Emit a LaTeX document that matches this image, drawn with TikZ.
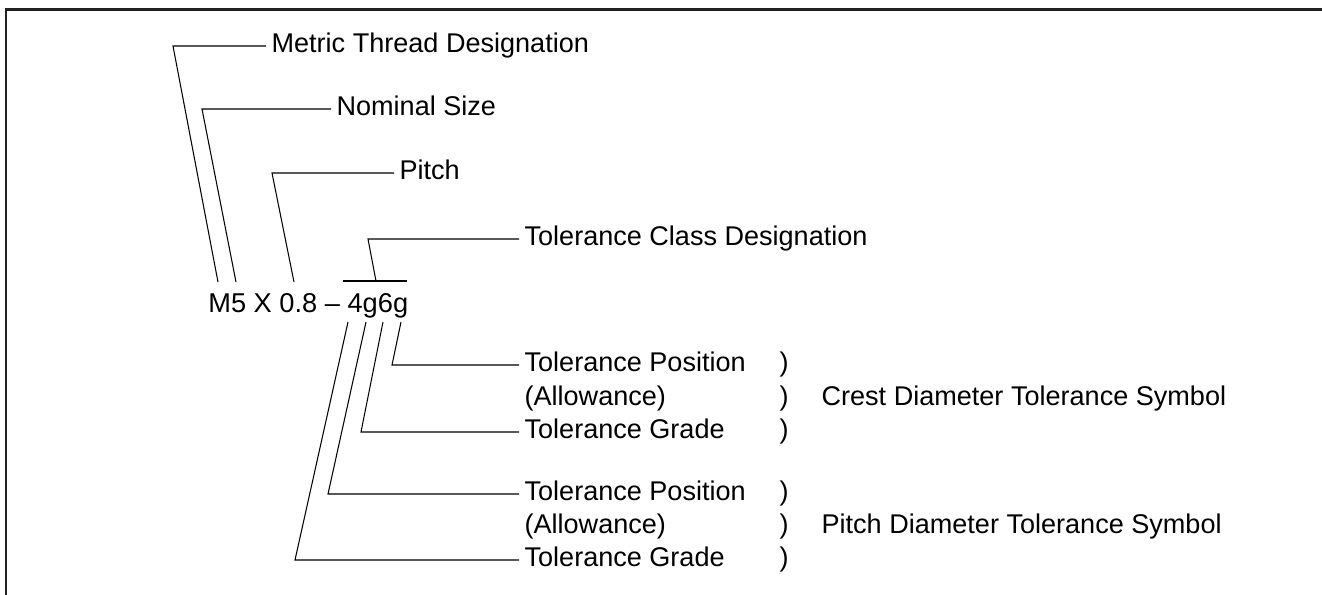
\documentclass[tikz,border=0pt]{standalone}
\usepackage{fontspec}
\setmainfont{Liberation Sans}
\usepackage{tikz}
\usetikzlibrary{positioning}
\usepackage{xcolor}
\definecolor{frameclr}{RGB}{34,34,34}

\begin{document}
\begin{tikzpicture}[x=0.02cm, y=-0.02cm,
    lbl/.style={anchor=west, inner xsep=3pt, inner ysep=0pt,
                text height=0.716em, text depth=0pt,
                font=\fontsize{15.4}{18}\selectfont},
    lead/.style={line width=0.6pt, line join=miter}]
    \useasboundingbox (0,0) rectangle (1322,595);
    % partial frame
    \draw[frameclr, line width=1.7pt] (1322,9.5) -- (6,9.5) -- (6,595);

    % the designation
    \node[anchor=base west, inner sep=0pt, font=\fontsize{15.5}{18}\selectfont]
          (desig) at (208,312) {M5 X 0.8 -- 4g6g};
    \coordinate (tM) at (218,282);
    \coordinate (tN) at (236,282);
    \coordinate (tP) at (294,282);
    \coordinate (tC) at (376,281);
    \coordinate (bG2) at (401,322);
    \coordinate (bS2) at (383,322);
    \coordinate (bG1) at (366,322);
    \coordinate (bS1) at (348,322);

    % upper labels
    \node[lbl] (metric) at (266,46) {Metric Thread Designation};
    \node[lbl] (nominal) at (331,109) {Nominal Size};
    \node[lbl] (pitch) at (394,173) {Pitch};
    \node[lbl] (tclass) at (519,239) {Tolerance Class Designation};

    % lower labels, crest diameter
    \node[lbl] (cpos) at (519,365) {Tolerance Position};
    \node[lbl] (call) at (519,399) {(Allowance)};
    \node[lbl] (cgrade) at (519,432) {Tolerance Grade};
    \node[lbl] (cp1) at (774,365) {)};
    \node[lbl] (cp2) at (774,399) {)};
    \node[lbl] (cp3) at (774,432) {)};
    \node[lbl] (crest) at (816,399) {Crest Diameter Tolerance Symbol};

    % lower labels, pitch diameter
    \node[lbl] (ppos) at (519,494) {Tolerance Position};
    \node[lbl] (pall) at (519,527) {(Allowance)};
    \node[lbl] (pgrade) at (519,560) {Tolerance Grade};
    \node[lbl] (pp1) at (774,494) {)};
    \node[lbl] (pp2) at (774,527) {)};
    \node[lbl] (pp3) at (774,560) {)};
    \node[lbl] (pdia) at (816,527) {Pitch Diameter Tolerance Symbol};

    % leaders
    \draw[lead] (tM) -- (173,46) -- (metric.west);
    \draw[lead] (tN) -- (202,109) -- (nominal.west);
    \draw[lead] (tP) -- (272,173) -- (pitch.west);
    \draw[lead] (343,281) -- (407,281);
    \draw[lead] (tC) -- (368,239) -- (tclass.west);
    \draw[lead] (bG2) -- (392,365) -- (cpos.west);
    \draw[lead] (bS2) -- (361,432) -- (cgrade.west);
    \draw[lead] (bG1) -- (328,494) -- (ppos.west);
    \draw[lead] (bS1) -- (295,560) -- (pgrade.west);
\end{tikzpicture}
\end{document}
